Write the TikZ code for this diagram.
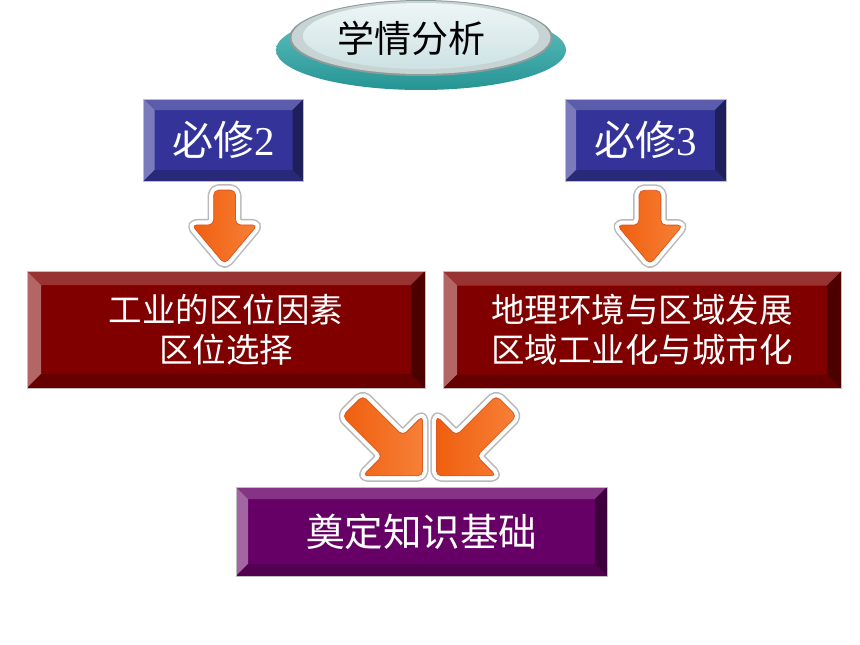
\documentclass[tikz,border=0pt]{standalone}
\usepackage{fontspec}
\setmainfont{Liberation Serif}
\newfontfamily\hei{Noto Sans CJK SC}
\usetikzlibrary{shapes.arrows}

\definecolor{bluemid}{RGB}{51,51,153}
\definecolor{bluetop}{RGB}{92,92,173}
\definecolor{blueleft}{RGB}{122,122,189}
\definecolor{blueright}{RGB}{31,31,92}
\definecolor{bluebot}{RGB}{41,41,122}
\definecolor{redmid}{RGB}{128,0,0}
\definecolor{redtop}{RGB}{153,51,51}
\definecolor{redleft}{RGB}{179,102,102}
\definecolor{redright}{RGB}{77,0,0}
\definecolor{redbot}{RGB}{102,0,0}
\definecolor{purmid}{RGB}{102,0,102}
\definecolor{purtop}{RGB}{133,51,133}
\definecolor{purleft}{RGB}{163,102,163}
\definecolor{purright}{RGB}{61,0,61}
\definecolor{purbot}{RGB}{82,0,82}
\definecolor{arrtail}{RGB}{240,95,15}
\definecolor{arrtip}{RGB}{246,128,55}
\definecolor{arredge}{RGB}{222,88,30}
\definecolor{tealdark}{RGB}{38,148,148}
\definecolor{teallight}{RGB}{100,195,195}
\definecolor{rimgray}{RGB}{140,155,155}
\definecolor{rimsilver}{RGB}{200,212,212}
\definecolor{disctop}{RGB}{238,245,245}
\definecolor{discbot}{RGB}{205,226,228}

\tikzset{
  bevbox/.style n args={6}{rectangle, fill=#1, text=white, inner sep=0pt,
    draw=black!25, line width=0.5pt,
    path picture={
      \path (path picture bounding box.north west) coordinate (bA)
            (path picture bounding box.north east) coordinate (bB)
            (path picture bounding box.south east) coordinate (bC)
            (path picture bounding box.south west) coordinate (bD);
      \fill[#2] (bA) -- (bB) -- ([shift={(-#6,-#6)}]bB) -- ([shift={(#6,-#6)}]bA) -- cycle;
      \fill[#3] (bA) -- (bD) -- ([shift={(#6,#6)}]bD) -- ([shift={(#6,-#6)}]bA) -- cycle;
      \fill[#4] (bB) -- (bC) -- ([shift={(-#6,#6)}]bC) -- ([shift={(-#6,-#6)}]bB) -- cycle;
      \fill[#5] (bD) -- (bC) -- ([shift={(-#6,#6)}]bC) -- ([shift={(#6,#6)}]bD) -- cycle;
    }},
  bluebox/.style={bevbox={bluemid}{bluetop}{blueleft}{blueright}{bluebot}{11pt},
    minimum width=160pt, minimum height=82pt, font=\hei\fontsize{41}{42}\selectfont},
  redbox/.style={bevbox={redmid}{redtop}{redleft}{redright}{redbot}{14pt},
    minimum width=398pt, minimum height=117pt, align=center,
    font=\hei\fontsize{33.5}{40}\selectfont},
  purplebox/.style={bevbox={purmid}{purtop}{purleft}{purright}{purbot}{12pt},
    minimum width=371pt, minimum height=89pt, font=\hei\fontsize{38.5}{40}\selectfont},
  orangearr/.style={single arrow, rounded corners=5pt, line join=round,
    left color=arrtail, right color=arrtip, draw=arredge, line width=0.8pt,
    preaction={draw=gray!55, line width=12pt, line join=round},
    preaction={draw=white, line width=9pt, line join=round}},
  downarr/.style={orangearr, single arrow tip angle=80, single arrow head extend=22pt,
    inner sep=10.5pt, minimum height=74pt},
  slantarr/.style={orangearr, single arrow tip angle=90, single arrow head extend=28pt,
    inner sep=14pt, minimum height=99pt}
}

\begin{document}
\begin{tikzpicture}[x=1pt,y=-1pt]
\useasboundingbox (0,0) rectangle (860,645);
\fill[white] (0,0) rectangle (860,645);

% title disc
\shade[top color=teallight, bottom color=tealdark] (421,50) ellipse [x radius=145pt, y radius=40pt];
\fill[rimgray] (421,38) ellipse [x radius=132pt, y radius=38pt];
\fill[rimsilver] (421,37.5) ellipse [x radius=129.5pt, y radius=36.5pt];
\shade[top color=disctop, bottom color=discbot] (421,36) ellipse [x radius=118pt, y radius=33pt];
\node[font=\hei\fontsize{37}{40}\selectfont] (title) at (411,38) {学情分析};

% boxes
\node[bluebox] (bixiu2) at (223.5,140) {必修\textrm{2}};
\node[bluebox, minimum width=161pt] (bixiu3) at (645.5,140) {必修\textrm{3}};
\node[redbox] (ind) at (226,329.5) {工业的区位因素\\区位选择};
\node[redbox] (reg) at (642,330) {地理环境与区域发展\\区域工业化与城市化};
\node[purplebox] (found) at (421.5,531.5) {奠定知识基础};

% arrows
\path (bixiu2.south) -- (ind.north) node[downarr, pos=.44, rotate=-90] (a1) {};
\path ([xshift=6pt]bixiu3.south) -- ([xshift=6pt]reg.north) node[downarr, pos=.44, rotate=-90] (a2) {};
\node[slantarr, rotate=-45] (a3) at ([shift={(-39pt,51pt)}]found.north) {};
\node[slantarr, rotate=-135] (a4) at ([shift={(55pt,51pt)}]found.north) {};
\end{tikzpicture}
\end{document}
